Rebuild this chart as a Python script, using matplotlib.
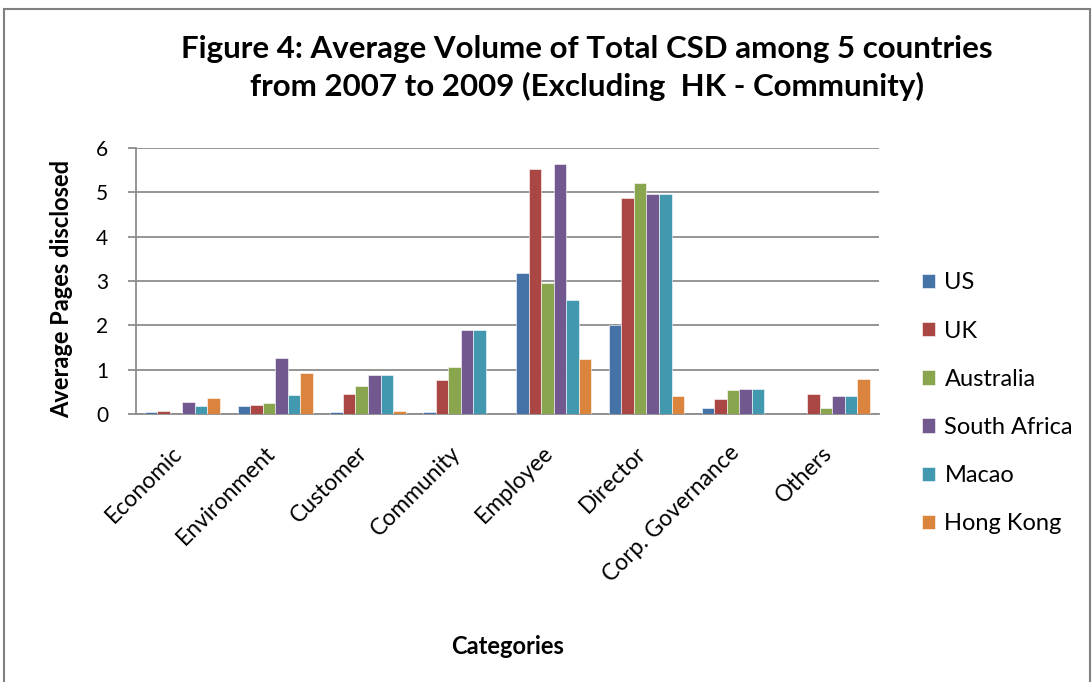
import numpy as np
import matplotlib
matplotlib.use('Agg')
import matplotlib.pyplot as plt
import matplotlib.transforms as mtransforms
from matplotlib.patches import Rectangle

plt.rcParams['font.family'] = ['Lato', 'DejaVu Sans']

# Data
categories = ['Economic', 'Environment', 'Customer', 'Community',
              'Employee', 'Director', 'Corp. Governance', 'Others']
countries = ['US', 'UK', 'Australia', 'South Africa', 'Macao', 'Hong Kong']
us = [0.04, 0.18, 0.04, 0.04, 3.17, 2.00, 0.13, 0.0]
uk = [0.06, 0.21, 0.45, 0.77, 5.53, 4.87, 0.33, 0.44]
australia = [0.0, 0.24, 0.62, 1.05, 2.96, 5.20, 0.53, 0.13]
south_africa = [0.27, 1.27, 0.88, 1.90, 5.65, 4.96, 0.56, 0.41]
macao = [0.18, 0.42, 0.88, 1.90, 2.56, 4.96, 0.56, 0.41]
hong_kong = [0.36, 0.92, 0.06, 0.0, 1.23, 0.41, 0.0, 0.79]
series = [us, uk, australia, south_africa, macao, hong_kong]
colors = ['#4572A7', '#AA4643', '#89A54E', '#71588F', '#4198AF', '#DB843D']

fig = plt.figure(figsize=(10.92, 6.82), dpi=100)
ax = fig.add_axes([0.1245, 0.393, 0.68, 0.39])

x = np.arange(len(categories))
w = 0.135
for i, (vals, name) in enumerate(zip(series, countries)):
    ax.bar(x + (i - 2.5) * w, vals, w, color=colors[i], label=name,
           edgecolor='white', linewidth=0.4, zorder=3)

ax.set_xlim(-0.5, len(categories) - 0.5)
ax.set_ylim(0, 6)
ax.set_yticks(range(7))
ax.yaxis.grid(True, color='#8c8c8c', linewidth=1.3, zorder=0)
for side in ['top', 'right']:
    ax.spines[side].set_visible(False)
ax.spines['left'].set_color('#8c8c8c')
ax.spines['bottom'].set_color('#8c8c8c')
ax.spines['left'].set_linewidth(1.3)
ax.spines['bottom'].set_linewidth(1.3)
ax.tick_params(axis='y', length=6, color='#8c8c8c', width=1.3,
               labelsize=15, pad=14)
ax.set_xticks(x)
ax.set_xticklabels(categories, rotation=45, ha='right', va='top',
                   rotation_mode='anchor', fontsize=16.5)
ax.tick_params(axis='x', length=0, pad=26)
# nudge rotated labels so their upper end sits under the category centre
shift = mtransforms.ScaledTranslation(-11 / 100, 8 / 100, fig.dpi_scale_trans)
for lbl in ax.get_xticklabels():
    lbl.set_transform(lbl.get_transform() + shift)

ax.set_ylabel('Average Pages disclosed', fontsize=17, fontweight='bold')
ax.yaxis.set_label_coords(-0.085, 0.47)
ax.set_xlabel('Categories', fontsize=17, fontweight='bold', labelpad=35)

fig.text(0.5375, 0.9, 'Figure 4: Average Volume of Total CSD among 5 countries\n'
         'from 2007 to 2009 (Excluding  HK - Community)',
         ha='center', va='center', fontsize=22.5, fontweight='bold',
         linespacing=1.38)

leg = ax.legend(loc='center left', bbox_to_anchor=(1.03, 0.04),
                frameon=False, fontsize=17, handlelength=0.55,
                handleheight=0.55, handletextpad=0.4, labelspacing=1.15)

fig.patches.append(Rectangle((0.004, -0.01), 0.994, 0.997,
                             transform=fig.transFigure, fill=False,
                             edgecolor='#808080', linewidth=1.5))

fig.savefig('out.png', dpi=100)
